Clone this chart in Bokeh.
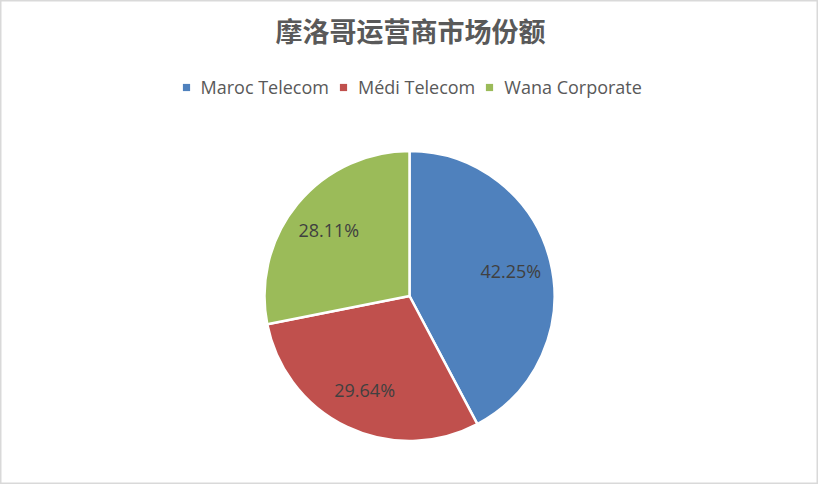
import numpy as np
from bokeh.plotting import figure
from bokeh.models import Range1d, ColumnDataSource, Legend, LegendItem
from bokeh.core.properties import value
from bokeh.embed import file_html
from bokeh.resources import INLINE

# ---- data ----
title_text = "摩洛哥运营商市场份额"
operators = ["Maroc Telecom", "Médi Telecom", "Wana Corporate"]
shares = [42.25, 29.64, 28.11]
colors = ["#4F81BD", "#C0504D", "#9BBB59"]

# ---- layout ----
W, H = 818, 484
cx, cy, R = 409, 188.5, 145

p = figure(width=W, height=H, output_backend="svg", toolbar_location=None,
           x_range=Range1d(0, W), y_range=Range1d(0, H),
           x_axis_location=None, y_axis_location=None, min_border=0)
p.grid.visible = False
p.outline_line_color = "#D9D9D9"
p.outline_line_width = 2
p.background_fill_color = "white"
p.border_fill_color = "white"

vals = np.array(shares, dtype=float)
frac = vals / vals.sum()
cum = np.concatenate([[0.0], np.cumsum(frac)])
start = np.pi / 2 - cum[:-1] * 2 * np.pi
end = np.pi / 2 - cum[1:] * 2 * np.pi
mid = (start + end) / 2
lr = 0.72 * R
src = ColumnDataSource(dict(
    name=operators, share=shares, color=colors,
    start=start, end=end,
    lx=cx + lr * np.cos(mid), ly=cy + lr * np.sin(mid),
    label=[f"{v:.2f}%" for v in shares],
))

for i in range(len(operators)):
    p.wedge(x=cx, y=cy, radius=R, start_angle=start[i], end_angle=end[i],
            direction="clock", fill_color=colors[i], line_color="white",
            line_width=2.5)

# legend key squares (off-canvas renderers used only as legend glyphs)
keys = []
for i in range(len(operators)):
    k = p.scatter(x=[np.nan], y=[np.nan], marker="square", size=7,
                  fill_color=colors[i], line_color=None)
    keys.append(k)

p.text(x="lx", y="ly", text="label", source=src, text_align="center",
       text_baseline="middle", text_font=value("Open Sans"),
       text_font_size=value("18px"), text_color="#404040")

p.text(x=[W / 2 + 1], y=[H - 30], text=[title_text], text_align="center",
       text_baseline="middle", text_font=value("Noto Sans CJK SC"),
       text_font_size=value("27px"), text_font_style="bold",
       text_color="#595959")

legend = Legend(items=[LegendItem(label=operators[i], renderers=[keys[i]])
                       for i in range(len(operators))],
                orientation="horizontal", location=(176.5, 385),
                glyph_width=18, glyph_height=18, label_standoff=6, spacing=5,
                padding=0, margin=0, border_line_color=None,
                background_fill_alpha=0,
                label_text_font="Open Sans", label_text_font_size="18px",
                label_text_color="#595959", label_height=20)
p.add_layout(legend, "center")

open("out.html", "w").write(file_html(p, INLINE))
